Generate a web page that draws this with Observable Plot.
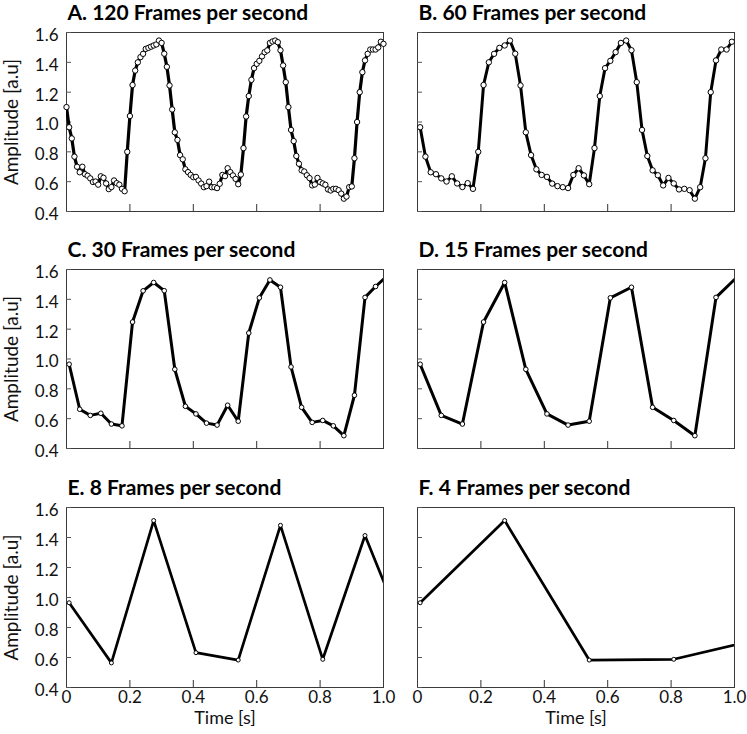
<!DOCTYPE html>
<html><head><meta charset="utf-8">
<script src="https://cdn.jsdelivr.net/npm/d3@7"></script>
<script src="https://cdn.jsdelivr.net/npm/@observablehq/plot@0.6"></script>
<style>
html,body{margin:0;padding:0;background:#fff;}
#chart{position:relative;width:747px;height:734px;font-family:Lato,sans-serif;}
#chart svg{position:absolute;}
</style></head><body><div id="chart"></div>
<script>
// Base recording: frames 0..120 at 120 frames per second (amplitude, a.u.)
const frameRate = 120;
const frameValues = [
  1.10, 0.965, 0.89, 0.768, 0.70, 0.663, 0.70, 0.65, 0.64, 0.622,
  0.598, 0.601, 0.58, 0.636, 0.626, 0.588, 0.55, 0.564, 0.608, 0.590,
  0.58, 0.552, 0.536, 0.800, 1.04, 1.248, 1.345, 1.40, 1.435, 1.457,
  1.49, 1.497, 1.505, 1.513, 1.52, 1.546, 1.53, 1.458, 1.37, 1.245,
  1.084, 0.931, 0.88, 0.778, 0.75, 0.683, 0.664, 0.645, 0.630, 0.632,
  0.608, 0.587, 0.563, 0.570, 0.60, 0.563, 0.563, 0.557, 0.586, 0.645,
  0.637, 0.690, 0.664, 0.642, 0.619, 0.583, 0.648, 0.825, 1.037, 1.174,
  1.283, 1.361, 1.39, 1.41, 1.44, 1.468, 1.48, 1.53, 1.54, 1.546,
  1.535, 1.481, 1.379, 1.267, 1.10, 0.947, 0.872, 0.772, 0.72, 0.676,
  0.668, 0.643, 0.624, 0.575, 0.581, 0.625, 0.597, 0.588, 0.579, 0.548,
  0.541, 0.552, 0.552, 0.543, 0.52, 0.486, 0.50, 0.563, 0.568, 0.757,
  1.0, 1.20, 1.334, 1.413, 1.457, 1.486, 1.486, 1.486, 1.50, 1.538,
  1.524
];
// frames just past 1 s, only visible as line segments leaving the frame
const extraFrameIndex = [121, 129];
const extraFrameValues = [1.55, 0.72];

const panelTitles = [
  "A. 120 Frames per second", "B. 60 Frames per second",
  "C. 30 Frames per second", "D. 15 Frames per second",
  "E. 8 Frames per second", "F. 4 Frames per second"
];
const panelFirstFrame = [0, 1, 1, 1, 1, 1];
const panelStep = [1, 2, 4, 8, 16, 32];

const yTicks = [0.4, 0.6, 0.8, 1.0, 1.2, 1.4, 1.6];
const xTicks = [0, 0.2, 0.4, 0.6, 0.8, 1.0];
const xInnerTicks = [0.2, 0.4, 0.6, 0.8];
const yLabel = "Amplitude [a.u]";
const xLabel = "Time [s]";

function valueAt(i) {
  if (i < frameValues.length) return frameValues[i];
  const k = extraFrameIndex.indexOf(i);
  return k >= 0 ? extraFrameValues[k] : null;
}
function series(p) {
  const out = [];
  for (let i = panelFirstFrame[p]; ; i += panelStep[p]) {
    const v = valueAt(i);
    if (v == null) break;
    out.push({t: i / frameRate, v, inside: i < frameValues.length});
    if (i >= frameValues.length) break;
  }
  return out;
}

const container = document.getElementById("chart");
const rowTop = [0, 237, 475];
const dotR = [2.7, 2.7, 2.3, 2.3, 2.0, 2.0];
const lineW = [3.2, 3.0, 3.0, 3.0, 2.7, 2.7];

for (let p = 0; p < 6; p++) {
  const col = p % 2, row = Math.floor(p / 2);
  const left = col ? 390 : 0;
  const width = col ? 357 : 390;
  const marginLeft = col ? 27 : 66;
  const marginRight = col ? 13 : 7;
  const marginTop = 32;
  const frameH = row === 2 ? 180 : 179;
  const marginBottom = row === 2 ? 47 : (row === 0 ? 26 : 27);
  const data = series(p);
  const marks = [
    Plot.frame({stroke: "#3a3a3a", strokeWidth: 1}),
    Plot.axisY({ticks: yTicks, tickSize: 5, dx: 5, fill: null, stroke: "#555", label: null}),
    Plot.axisX({ticks: xInnerTicks, tickSize: 7, dy: -7, fill: null, stroke: "#333", label: null}),
    Plot.line(data, {x: "t", y: "v", stroke: "black", strokeWidth: lineW[p], strokeLinejoin: "round", clip: true}),
    Plot.dot(data.filter(d => d.inside), {x: "t", y: "v", r: dotR[p], fill: "white", stroke: "black", strokeWidth: 1}),
    Plot.text([panelTitles[p]], {text: d => d, frameAnchor: "top-left", textAnchor: "start", lineAnchor: "middle", dy: -19, dx: 1, fontWeight: "bold", fontSize: 21, fill: "black"})
  ];
  if (col === 0) {
    marks.push(Plot.axisY({ticks: yTicks, tickSize: 0, tickPadding: 8, dy: 3, fontSize: 17, tickFormat: d => d.toFixed(1), label: null, fill: "#111"}));
    marks.push(Plot.text([yLabel], {text: d => d, frameAnchor: "left", rotate: -90, textAnchor: "middle", lineAnchor: "middle", dx: -55, fontSize: 19, fill: "#111"}));
  }
  if (row === 2) {
    marks.push(Plot.axisX({ticks: xTicks, tickSize: 0, tickPadding: 3, fontSize: 17, tickFormat: d => d === 0 ? "0" : d.toFixed(1), label: null, fill: "#111"}));
    marks.push(Plot.text([xLabel], {text: d => d, frameAnchor: "bottom", textAnchor: "middle", lineAnchor: "middle", dy: 31, fontSize: 18, fill: "#111"}));
  }
  const svg = Plot.plot({
    width, height: marginTop + frameH + marginBottom,
    marginLeft, marginRight, marginTop, marginBottom,
    style: {background: "transparent", overflow: "visible", fontFamily: "Lato, sans-serif"},
    x: {domain: [0, 1]},
    y: {domain: [0.4, 1.6]},
    marks
  });
  svg.style.left = left + "px";
  svg.style.top = rowTop[row] + "px";
  container.appendChild(svg);
}
</script></body></html>
